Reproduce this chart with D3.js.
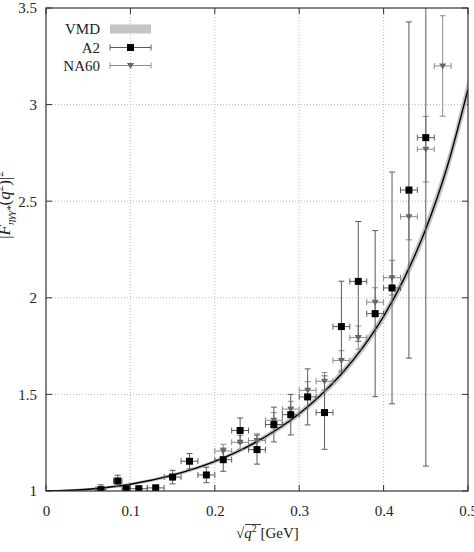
<!DOCTYPE html>
<html>
<head>
<meta charset="utf-8">
<script src="https://cdn.jsdelivr.net/npm/d3@7"></script>
<style>
  body { margin: 0; background: #fff; }
  text { font-family: "Liberation Serif", "DejaVu Serif", serif; fill: #222; }
</style>
</head>
<body>
<div id="chart"></div>
<script>
// dimensions of the plot frame
var margin = {top: 8, right: 6, bottom: 61, left: 46},
    width = 474 - margin.left - margin.right,
    height = 552 - margin.top - margin.bottom;

// VMD curve (x = sqrt(q^2) in GeV)
var vmdX     = [0, 0.05, 0.1, 0.15, 0.2, 0.225, 0.25, 0.275, 0.3, 0.325, 0.35, 0.375, 0.4, 0.425, 0.45, 0.475, 0.5];
var vmdY     = [1, 1.009, 1.035, 1.082, 1.153, 1.200, 1.256, 1.322, 1.400, 1.494, 1.606, 1.741, 1.904, 2.106, 2.356, 2.673, 3.08];
var vmdUpper = [1, 1.010, 1.037, 1.085, 1.158, 1.206, 1.263, 1.331, 1.411, 1.507, 1.622, 1.760, 1.927, 2.134, 2.390, 2.714, 3.13];
var vmdLower = [1, 1.008, 1.033, 1.079, 1.148, 1.194, 1.249, 1.313, 1.389, 1.481, 1.590, 1.722, 1.881, 2.078, 2.322, 2.632, 3.03];

// A2 data
var a2X  = [0.065, 0.085, 0.095, 0.110, 0.130, 0.150, 0.170, 0.190, 0.210, 0.230, 0.250, 0.270, 0.290, 0.310, 0.330, 0.350, 0.370, 0.390, 0.410, 0.430, 0.450];
var a2Y  = [1.007, 1.052, 1.012, 1.012, 1.016, 1.072, 1.154, 1.083, 1.162, 1.313, 1.214, 1.344, 1.395, 1.487, 1.406, 1.851, 2.085, 1.918, 2.051, 2.558, 2.829];
var a2Ex = [0.006, 0.005, 0.005, 0.010, 0.010, 0.010, 0.010, 0.010, 0.010, 0.010, 0.010, 0.010, 0.010, 0.010, 0.010, 0.010, 0.010, 0.010, 0.010, 0.010, 0.010];
var a2Ey = [0.025, 0.030, 0.020, 0.010, 0.015, 0.035, 0.040, 0.040, 0.060, 0.065, 0.075, 0.090, 0.105, 0.145, 0.190, 0.235, 0.310, 0.430, 0.600, 0.870, 1.700];

// NA60 data
var naX  = [0.210, 0.230, 0.250, 0.270, 0.290, 0.310, 0.330, 0.350, 0.370, 0.390, 0.410, 0.430, 0.450, 0.470];
var naY  = [1.207, 1.252, 1.261, 1.366, 1.424, 1.521, 1.568, 1.676, 1.794, 1.977, 2.104, 2.420, 2.769, 3.200];
var naEx = [0.010, 0.010, 0.010, 0.010, 0.010, 0.010, 0.010, 0.010, 0.010, 0.010, 0.010, 0.010, 0.010, 0.010];
var naEy = [0.035, 0.035, 0.035, 0.040, 0.040, 0.045, 0.045, 0.050, 0.060, 0.075, 0.090, 0.120, 0.170, 0.260];

// ticks
var xTicks = [0, 0.1, 0.2, 0.3, 0.4, 0.5];
var xTickLabels = ["0", "0.1", "0.2", "0.3", "0.4", "0.5"];
var yTicks = [1, 1.5, 2, 2.5, 3, 3.5];
var yTickLabels = ["1", "1.5", "2", "2.5", "3", "3.5"];

var x = d3.scaleLinear().domain([0, 0.5]).range([0, width]);
var y = d3.scaleLinear().domain([1, 3.5]).range([height, 0]);

var svg = d3.select("#chart")
  .append("svg")
    .attr("width", 474)
    .attr("height", 552);

var defs = svg.append("defs");
defs.append("clipPath").attr("id", "clip")
  .append("rect").attr("width", width).attr("height", height);

var g = svg.append("g")
    .attr("transform", "translate(" + margin.left + "," + margin.top + ")");

// grid
g.selectAll(".vgrid")
  .data(xTicks.slice(1, -1))
  .enter().append("line")
    .attr("x1", function(d) { return x(d); })
    .attr("x2", function(d) { return x(d); })
    .attr("y1", 0).attr("y2", height)
    .attr("stroke", "#aaa").attr("stroke-width", 0.8)
    .attr("stroke-dasharray", "1,2");
g.selectAll(".hgrid")
  .data(yTicks.slice(1, -1))
  .enter().append("line")
    .attr("y1", function(d) { return y(d); })
    .attr("y2", function(d) { return y(d); })
    .attr("x1", 0).attr("x2", width)
    .attr("stroke", "#aaa").attr("stroke-width", 0.8)
    .attr("stroke-dasharray", "1,2");

// axes: labels via d3 axis, then inward ticks on all sides
var xAxis = g.append("g")
  .attr("transform", "translate(0," + height + ")")
  .call(d3.axisBottom(x).tickValues(xTicks).tickSize(0).tickPadding(14)
    .tickFormat(function(d, i) { return xTickLabels[i]; }));
var yAxis = g.append("g")
  .call(d3.axisLeft(y).tickValues(yTicks).tickSize(0).tickPadding(9)
    .tickFormat(function(d, i) { return yTickLabels[i]; }));
[xAxis, yAxis].forEach(function(a) {
  a.attr("font-family", "Liberation Serif").attr("font-size", 15);
  a.select(".domain").remove();
  a.selectAll("text")
    .attr("font-family", "Liberation Serif")
    .attr("fill", "#222");
});

var tickLen = 6;
xTicks.forEach(function(d) {
  g.append("line").attr("x1", x(d)).attr("x2", x(d))
    .attr("y1", height).attr("y2", height - tickLen).attr("stroke", "#333");
  g.append("line").attr("x1", x(d)).attr("x2", x(d))
    .attr("y1", 0).attr("y2", tickLen).attr("stroke", "#333");
});
yTicks.forEach(function(d) {
  g.append("line").attr("y1", y(d)).attr("y2", y(d))
    .attr("x1", 0).attr("x2", tickLen).attr("stroke", "#333");
  g.append("line").attr("y1", y(d)).attr("y2", y(d))
    .attr("x1", width).attr("x2", width - tickLen).attr("stroke", "#333");
});

var plot = g.append("g").attr("clip-path", "url(#clip)");

// VMD band and line
var vmd = vmdX.map(function(d, i) { return {x: d, y: vmdY[i], lo: vmdLower[i], hi: vmdUpper[i]}; });
plot.append("path")
  .datum(vmd)
  .attr("fill", "#c4c4c4")
  .attr("d", d3.area().curve(d3.curveMonotoneX)
    .x(function(d) { return x(d.x); })
    .y0(function(d) { return y(d.lo) + 1; })
    .y1(function(d) { return y(d.hi) - 1; }));
plot.append("path")
  .datum(vmd)
  .attr("fill", "none")
  .attr("stroke", "#000")
  .attr("stroke-width", 1.4)
  .attr("d", d3.line().curve(d3.curveMonotoneX)
    .x(function(d) { return x(d.x); })
    .y(function(d) { return y(d.y); }));

// error bars with caps
function errorBars(sel, data, color) {
  var cap = 3;
  data.forEach(function(d) {
    var e = sel.append("g").attr("stroke", color).attr("stroke-width", 1);
    e.append("line").attr("x1", x(d.x)).attr("x2", x(d.x))
      .attr("y1", y(d.y - d.ey)).attr("y2", y(d.y + d.ey));
    e.append("line").attr("x1", x(d.x) - cap).attr("x2", x(d.x) + cap)
      .attr("y1", y(d.y - d.ey)).attr("y2", y(d.y - d.ey));
    e.append("line").attr("x1", x(d.x) - cap).attr("x2", x(d.x) + cap)
      .attr("y1", y(d.y + d.ey)).attr("y2", y(d.y + d.ey));
    e.append("line").attr("x1", x(d.x - d.ex)).attr("x2", x(d.x + d.ex))
      .attr("y1", y(d.y)).attr("y2", y(d.y));
    e.append("line").attr("x1", x(d.x - d.ex)).attr("x2", x(d.x - d.ex))
      .attr("y1", y(d.y) - cap).attr("y2", y(d.y) + cap);
    e.append("line").attr("x1", x(d.x + d.ex)).attr("x2", x(d.x + d.ex))
      .attr("y1", y(d.y) - cap).attr("y2", y(d.y) + cap);
  });
}

var a2 = a2X.map(function(d, i) { return {x: d, y: a2Y[i], ex: a2Ex[i], ey: a2Ey[i]}; });
var na = naX.map(function(d, i) { return {x: d, y: naY[i], ex: naEx[i], ey: naEy[i]}; });

var triangle = "M-3.5,-2.5L3.5,-2.5L0,3.5Z";

errorBars(plot, na, "#8a8a8a");
errorBars(plot, a2, "#5a5a5a");

plot.selectAll(".tri")
  .data(na)
  .enter().append("path")
    .attr("d", triangle)
    .attr("transform", function(d) { return "translate(" + x(d.x) + "," + y(d.y) + ")"; })
    .attr("fill", "#666");

plot.selectAll(".sq")
  .data(a2)
  .enter().append("rect")
    .attr("x", function(d) { return x(d.x) - 3.5; })
    .attr("y", function(d) { return y(d.y) - 3.5; })
    .attr("width", 7).attr("height", 7)
    .attr("fill", "#000");

// frame
g.append("rect")
  .attr("width", width).attr("height", height)
  .attr("fill", "none").attr("stroke", "#333").attr("stroke-width", 1.2);

// legend
var legend = svg.append("g");
var legRows = [{name: "VMD", y: 29}, {name: "A2", y: 47.5}, {name: "NA60", y: 65.5}];
legend.selectAll("text")
  .data(legRows)
  .enter().append("text")
    .attr("x", 100).attr("y", function(d) { return d.y + 5; })
    .attr("text-anchor", "end")
    .style("font-size", "15px")
    .text(function(d) { return d.name; });
legend.append("rect").attr("x", 110).attr("y", 24.5).attr("width", 41).attr("height", 9).attr("fill", "#c4c4c4");
[{y: 47.5, c: "#5a5a5a"}, {y: 65.5, c: "#8a8a8a"}].forEach(function(r) {
  legend.append("line").attr("x1", 110).attr("x2", 151).attr("y1", r.y).attr("y2", r.y).attr("stroke", r.c);
  legend.append("line").attr("x1", 110).attr("x2", 110).attr("y1", r.y - 3).attr("y2", r.y + 3).attr("stroke", r.c);
  legend.append("line").attr("x1", 151).attr("x2", 151).attr("y1", r.y - 3).attr("y2", r.y + 3).attr("stroke", r.c);
});
legend.append("rect").attr("x", 127).attr("y", 44).attr("width", 7).attr("height", 7).attr("fill", "#000");
legend.append("path").attr("d", triangle).attr("transform", "translate(130.5,65.5)").attr("fill", "#666");

// x label: sqrt(q^2) [GeV]
var xl = svg.append("text")
  .attr("x", 236).attr("y", 538)
  .style("font-size", "15px");
xl.append("tspan").text("\u221A");
xl.append("tspan").style("font-style", "italic").text("q");
xl.append("tspan").attr("dy", -6).style("font-size", "10px").text("2");
xl.append("tspan").attr("dy", 6).text(" [GeV]");
svg.append("line").attr("x1", 245).attr("x2", 261).attr("y1", 524.5).attr("y2", 524.5)
  .attr("stroke", "#222").attr("stroke-width", 0.9);

// y label |F_{eta gamma gamma*}(q^2)|^2
var yl = svg.append("text")
  .attr("transform", "translate(10,205) rotate(-90)")
  .attr("text-anchor", "middle")
  .style("font-size", "17px");
yl.append("tspan").text("|");
yl.append("tspan").style("font-style", "italic").text("F");
yl.append("tspan").attr("dy", 4).style("font-size", "11px").style("font-style", "italic").text("\u03B7\u03B3\u03B3*");
yl.append("tspan").attr("dy", -4).text("(");
yl.append("tspan").style("font-style", "italic").text("q");
yl.append("tspan").attr("dy", -7).style("font-size", "11px").text("2");
yl.append("tspan").attr("dy", 7).text(")|");
yl.append("tspan").attr("dy", -7).style("font-size", "11px").text("2");
</script>
</body>
</html>
